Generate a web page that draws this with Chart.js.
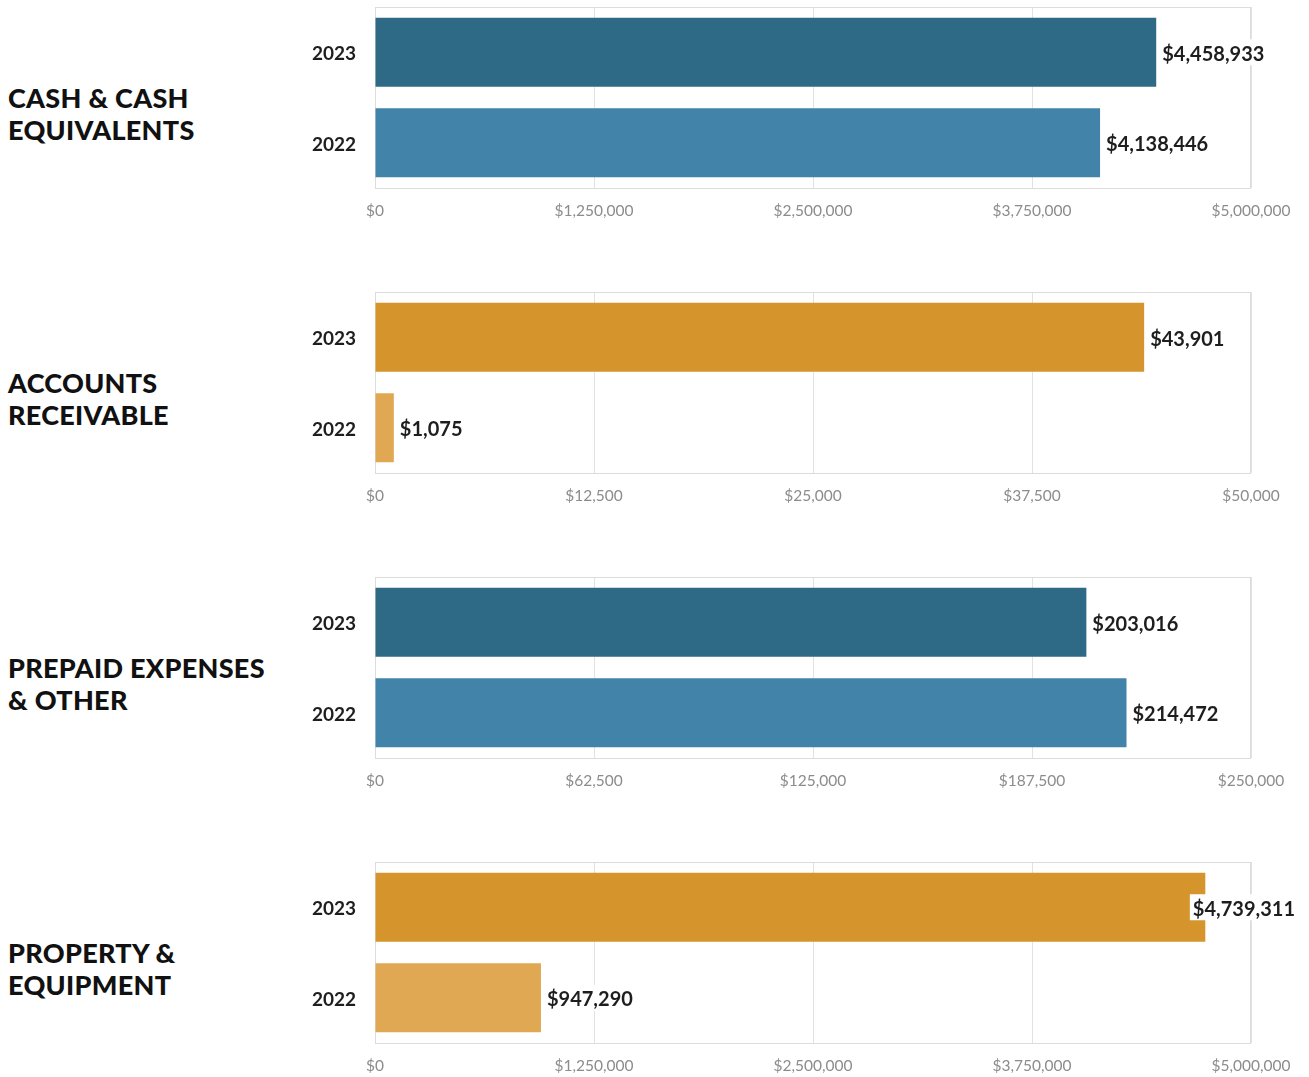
<!DOCTYPE html>
<html>
<head>
<meta charset="utf-8">
<script src="https://cdn.jsdelivr.net/npm/chart.js@4.4.1/dist/chart.umd.min.js"></script>
<style>
  html, body { margin: 0; padding: 0; background: #fff; }
  body { width: 1309px; height: 1077px; position: relative; overflow: hidden; font-family: Lato, sans-serif; }
  .label {
    position: absolute; left: 8px; width: 290px;
    font-family: Lato, sans-serif; font-weight: 900; font-size: 27px;
    line-height: 32px; color: #111; letter-spacing: 0.3px;
  }
  .panel { position: absolute; left: 290px; width: 1019px; height: 230px; }
</style>
</head>
<body>
<div class="label" style="top:82px">CASH &amp; CASH<br>EQUIVALENTS</div>
<div class="label" style="top:367px">ACCOUNTS<br>RECEIVABLE</div>
<div class="label" style="top:652px">PREPAID EXPENSES<br>&amp; OTHER</div>
<div class="label" style="top:937px">PROPERTY &amp;<br>EQUIPMENT</div>

<div class="panel" style="top:0px"><canvas id="cashChart"></canvas></div>
<div class="panel" style="top:285px"><canvas id="receivableChart"></canvas></div>
<div class="panel" style="top:570px"><canvas id="prepaidChart"></canvas></div>
<div class="panel" style="top:855px"><canvas id="propertyChart"></canvas></div>

<script>
// Data
const years = ['2023', '2022'];
const cashValues = [4458933, 4138446];
const receivableValues = [43901, 1075];
const prepaidValues = [203016, 214472];
const propertyValues = [4739311, 947290];

// Axis ranges (max, step)
const cashAxis = [5000000, 1250000];
const receivableAxis = [50000, 12500];
const prepaidAxis = [250000, 62500];
const propertyAxis = [5000000, 1250000];

const blueColors = ['#2e6a86', '#4284a9'];
const orangeColors = ['#d6952c', '#e1a853'];

const fmt = v => '$' + Number(v).toLocaleString('en-US');

// Light border round the plot area
const frame = {
    id: 'frame',
    beforeDatasetsDraw(chart) {
        const { ctx, chartArea: a } = chart;
        ctx.save();
        ctx.strokeStyle = '#dcdcdc';
        ctx.lineWidth = 1;
        ctx.strokeRect(a.left + 0.5, a.top + 0.5, a.right - a.left - 1, a.bottom - a.top);
        ctx.restore();
    }
};

// Value labels at bar ends (pulled back in when they would run off the edge)
const valueLabels = {
    id: 'valueLabels',
    afterDatasetsDraw(chart) {
        const ctx = chart.ctx;
        const meta = chart.getDatasetMeta(0);
        const data = chart.data.datasets[0].data;
        ctx.save();
        ctx.font = 'bold 20px Lato, sans-serif';
        ctx.textBaseline = 'middle';
        meta.data.forEach((bar, i) => {
            const txt = fmt(data[i]);
            const w = ctx.measureText(txt).width;
            let x = bar.x + 6;
            if (x + w > chart.width - 14) x = chart.width - 14 - w;
            ctx.fillStyle = '#fff';
            ctx.fillRect(x - 3, bar.y - 13, w + 6, 26);
            ctx.fillStyle = '#1e1e1e';
            ctx.fillText(txt, x, bar.y + 2);
        });
        ctx.restore();
    }
};

function makeChart(id, values, axis, colors) {
    const ctx = document.getElementById(id).getContext('2d');
    return new Chart(ctx, {
        type: 'bar',
        data: {
            labels: years,
            datasets: [{
                data: values,
                backgroundColor: colors,
                borderWidth: 0,
                barPercentage: 0.85,
                categoryPercentage: 0.9
            }]
        },
        options: {
            indexAxis: 'y',
            responsive: true,
            maintainAspectRatio: false,
            animation: false,
            layout: { padding: { top: 7, right: 58, bottom: 0, left: 0 } },
            plugins: { legend: { display: false }, tooltip: { enabled: false } },
            scales: {
                x: {
                    min: 0,
                    max: axis[0],
                    ticks: {
                        stepSize: axis[1],
                        color: '#8c8c8c',
                        font: { family: 'Lato', size: 15.5 },
                        padding: 14,
                        maxRotation: 0,
                        callback: v => fmt(v)
                    },
                    grid: { color: '#e2e2e2', drawTicks: false },
                    border: { display: false },
                    afterFit: s => { s.height = 42; }
                },
                y: {
                    ticks: {
                        color: '#1e1e1e',
                        font: { family: 'Lato', size: 19, weight: 'bold' },
                        padding: 19,
                        labelOffset: 2
                    },
                    grid: { display: false, drawTicks: false },
                    border: { display: false },
                    afterFit: s => { s.width = 85; s.paddingTop = 0; s.paddingBottom = 0; }
                }
            }
        },
        plugins: [frame, valueLabels]
    });
}

makeChart('cashChart', cashValues, cashAxis, blueColors);
makeChart('receivableChart', receivableValues, receivableAxis, orangeColors);
makeChart('prepaidChart', prepaidValues, prepaidAxis, blueColors);
makeChart('propertyChart', propertyValues, propertyAxis, orangeColors);
</script>
</body>
</html>
